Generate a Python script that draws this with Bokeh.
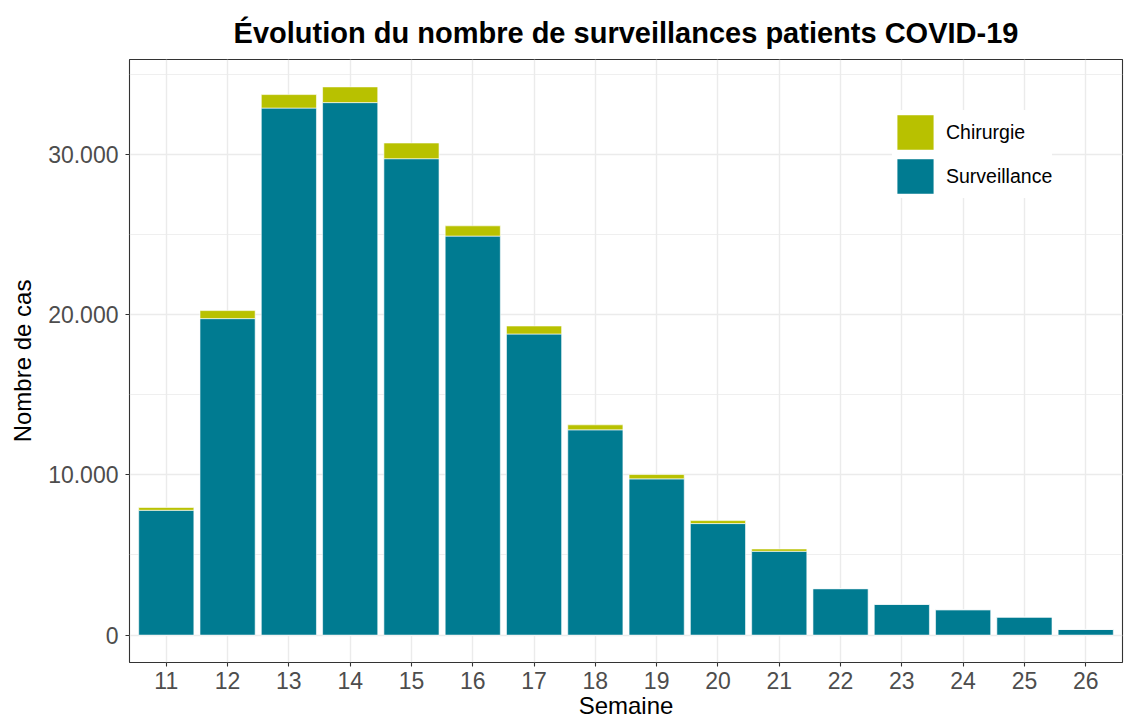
from bokeh.plotting import figure
from bokeh.models import ColumnDataSource, Range1d, FixedTicker, Legend, LegendItem
from bokeh.embed import file_html
from bokeh.resources import INLINE

# Data
weeks = [11, 12, 13, 14, 15, 16, 17, 18, 19, 20, 21, 22, 23, 24, 25, 26]
surveillance = [7790, 19750, 32890, 33230, 29730, 24900, 18790, 12810, 9750, 6960, 5230, 2900, 1920, 1585, 1125, 355]
chirurgie = [170, 500, 840, 980, 980, 640, 500, 310, 270, 185, 145, 0, 0, 0, 0, 0]
y_ticks = [0, 10000, 20000, 30000]
y_minor = [5000, 15000, 25000, 35000]
y_labels = ["0", "10.000", "20.000", "30.000"]

TEAL = "#007B91"
YELLOW = "#B8C100"
FONT = "Liberation Sans"

source = ColumnDataSource(dict(week=weeks, Surveillance=surveillance, Chirurgie=chirurgie))

p = figure(width=1124, height=721, output_backend="svg", toolbar_location=None,
           x_range=Range1d(10.4, 26.6), y_range=Range1d(-1710, 35920),
           min_border_left=129, min_border_right=2, min_border_top=59, min_border_bottom=59)

p.title.text = "Évolution du nombre de surveillances patients COVID-19"
p.title.text_font = FONT
p.title.text_font_size = "29px"
p.title.text_font_style = "bold"
p.title.text_color = "black"
p.title.align = "center"
p.title.standoff = 22

p.background_fill_color = "white"
p.border_fill_color = "white"
p.outline_line_color = "#333333"
p.outline_line_width = 1.1

renderers = p.vbar_stack(["Surveillance", "Chirurgie"], x="week", width=0.9,
                         color=[TEAL, YELLOW], line_color="white", line_width=0.6,
                         source=source)

# Axes
p.xaxis.ticker = FixedTicker(ticks=weeks, minor_ticks=[])
p.yaxis.ticker = FixedTicker(ticks=y_ticks, minor_ticks=y_minor)
p.yaxis.major_label_overrides = {t: l for t, l in zip(y_ticks, y_labels)}

for ax in (p.xaxis, p.yaxis):
    ax.axis_line_color = None
    ax.major_tick_line_color = "#333333"
    ax.major_tick_line_width = 1.1
    ax.major_tick_out = 4
    ax.major_tick_in = 0
    ax.minor_tick_line_color = None
    ax.major_label_text_font = FONT
    ax.major_label_text_font_size = "23px"
    ax.major_label_text_color = "#4D4D4D"
    ax.axis_label_text_font = FONT
    ax.axis_label_text_font_size = "24px"
    ax.axis_label_text_font_style = "normal"
    ax.axis_label_text_color = "black"

p.xaxis.axis_label = "Semaine"
p.yaxis.axis_label = "Nombre de cas"
p.xaxis.major_label_standoff = 5
p.xaxis.axis_label_standoff = 0
p.yaxis.major_label_standoff = 7
p.yaxis.axis_label_standoff = 9

# Grid
p.xgrid.grid_line_color = "#EBEBEB"
p.xgrid.grid_line_width = 1.4
p.ygrid.grid_line_color = "#EBEBEB"
p.ygrid.grid_line_width = 1.4
p.ygrid.minor_grid_line_color = "#EBEBEB"
p.ygrid.minor_grid_line_width = 0.8

# Legend (Chirurgie on top)
legend = Legend(items=[LegendItem(label="Chirurgie", renderers=[renderers[1]]),
                       LegendItem(label="Surveillance", renderers=[renderers[0]])],
                location=(763, 464))
legend.glyph_width = 46
legend.glyph_height = 44
legend.label_height = 44
legend.spacing = 0
legend.padding = 12
legend.margin = 0
legend.label_standoff = 8
legend.label_text_font = FONT
legend.label_text_font_size = "19.5px"
legend.label_text_color = "black"
legend.background_fill_color = "white"
legend.background_fill_alpha = 1.0
legend.border_line_color = None
p.add_layout(legend, "center")

open("out.html", "w").write(file_html(p, INLINE))
